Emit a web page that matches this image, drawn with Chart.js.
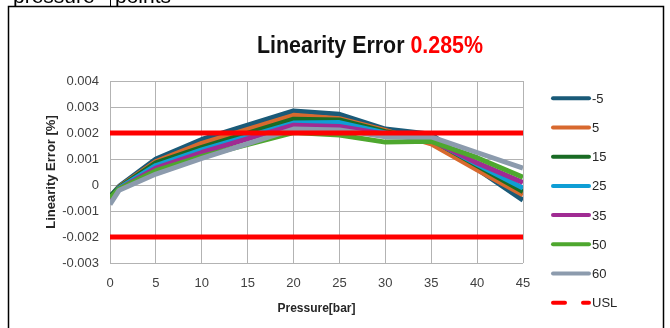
<!DOCTYPE html>
<html>
<head>
<meta charset="utf-8">
<script src="https://cdn.jsdelivr.net/npm/chart.js@4.4.1/dist/chart.umd.min.js"></script>
<style>
  html, body { margin: 0; padding: 0; background: #fff; overflow: hidden; }
  #wrap { position: absolute; left: 0; top: 0; width: 670px; height: 328px; }
</style>
</head>
<body>
<div id="wrap"><canvas id="c" width="670" height="328"></canvas></div>
<script>
// ---- data ----
const pressures = [0, 1, 5, 10, 20, 25, 30, 35, 40, 45];
const seriesLabels = ['-5', '5', '15', '25', '35', '50', '60'];
const seriesColors = ['#1a5a78', '#d8692e', '#196b24', '#0f9ed5', '#a02b93', '#4ea72e', '#8c9bad'];
const sM5 = [-0.00045, -0.00005, 0.00100, 0.00175, 0.00285, 0.00272, 0.00215, 0.00195, 0.00062, -0.00058];
const s5  = [-0.00050, -0.00008, 0.00090, 0.00160, 0.00268, 0.00255, 0.00210, 0.00158, 0.00058, -0.00038];
const s15 = [-0.00045, -0.00010, 0.00085, 0.00145, 0.00253, 0.00250, 0.00205, 0.00175, 0.00075, -0.00025];
const s25 = [-0.00055, -0.00012, 0.00075, 0.00135, 0.00238, 0.00240, 0.00200, 0.00175, 0.00080, -0.00012];
const s35 = [-0.00055, -0.00015, 0.00065, 0.00125, 0.00230, 0.00225, 0.00195, 0.00172, 0.00085, 0.00010];
const s50 = [-0.00050, -0.00015, 0.00055, 0.00110, 0.00202, 0.00192, 0.00165, 0.00168, 0.00105, 0.00030];
const s60 = [-0.00075, -0.00020, 0.00042, 0.00102, 0.00215, 0.00212, 0.00185, 0.00185, 0.00125, 0.00065];
const seriesValues = [sM5, s5, s15, s25, s35, s50, s60];
const limitX = [0, 45];
const uslValue = 0.002;
const lslValue = -0.002;
const xTicks = [0, 5, 10, 15, 20, 25, 30, 35, 40, 45];
const yTicks = [-0.003, -0.002, -0.001, 0, 0.001, 0.002, 0.003, 0.004];
const titleMain = 'Linearity Error ';
const titleValue = '0.285%';
const xTitle = 'Pressure[bar]';
const yTitle = 'Linearity Error [%]';
const sheetText = 'pressure points';

// ---- datasets ----
const datasets = seriesLabels.map((lab, i) => ({
  label: lab,
  data: pressures.map((p, j) => ({ x: p, y: seriesValues[i][j] })),
  borderColor: seriesColors[i],
  backgroundColor: seriesColors[i],
  borderWidth: 5,
  pointRadius: 0,
  tension: 0,
  borderJoinStyle: 'round',
  order: seriesLabels.length - i + 1,
  inLegend: true
}));
datasets.push({
  label: 'USL',
  data: limitX.map(x => ({ x: x, y: uslValue })),
  borderColor: '#ff0000', backgroundColor: '#ff0000',
  borderWidth: 5, pointRadius: 0, order: 0, inLegend: true, dashLegend: true
});
datasets.push({
  label: 'LSL',
  data: limitX.map(x => ({ x: x, y: lslValue })),
  borderColor: '#ff0000', backgroundColor: '#ff0000',
  borderWidth: 5, pointRadius: 0, order: 0, inLegend: false
});

const decorPlugin = {
  id: 'decor',
  beforeDraw(chart) {
    const ctx = chart.ctx;
    ctx.save();
    ctx.fillStyle = '#fff';
    ctx.fillRect(0, 0, chart.width, chart.height);
    // sheet cell text cut at the top
    ctx.fillStyle = '#000';
    ctx.font = '21px "Liberation Sans", Arial, sans-serif';
    ctx.textBaseline = 'alphabetic';
    ctx.fillText(sheetText.split(' ')[0], 13, 3);
    ctx.fillText(sheetText.split(' ')[1], 115, 3);
    ctx.strokeStyle = '#000';
    ctx.lineWidth = 1;
    ctx.beginPath();
    ctx.moveTo(110.5, 0); ctx.lineTo(110.5, 6);
    ctx.stroke();
    // chart frame
    ctx.lineWidth = 1.5;
    ctx.strokeRect(8.5, 6.5, 655, 340);
    ctx.restore();
  },
  afterDraw(chart) {
    const ctx = chart.ctx;
    ctx.save();
    // title
    ctx.font = 'bold 24px "Liberation Sans", Arial, sans-serif';
    ctx.textBaseline = 'alphabetic';
    const w1 = ctx.measureText(titleMain).width;
    const w2 = ctx.measureText(titleValue).width;
    const sx = 226 / (w1 + w2);
    ctx.translate(257, 53);
    ctx.scale(sx, 1.0);
    ctx.fillStyle = '#111';
    ctx.fillText(titleMain, 0, 0);
    ctx.fillStyle = '#ff0000';
    ctx.fillText(titleValue, w1, 0);
    ctx.restore();

    // legend
    ctx.save();
    const items = chart.data.datasets.filter(d => d.inLegend);
    items.forEach((d, i) => {
      const y = 98.3 + i * 29.2;
      ctx.strokeStyle = d.borderColor;
      ctx.lineWidth = 4;
      ctx.lineCap = 'round';
      ctx.beginPath();
      if (d.dashLegend) {
        ctx.moveTo(553, y); ctx.lineTo(565, y);
        ctx.moveTo(583, y); ctx.lineTo(589, y);
      } else {
        ctx.moveTo(553, y); ctx.lineTo(589, y);
      }
      ctx.stroke();
      ctx.fillStyle = '#262626';
      ctx.font = '13px "Liberation Sans", Arial, sans-serif';
      ctx.textBaseline = 'middle';
      ctx.fillText(d.label, 592, y + 1);
    });
    ctx.restore();
  }
};

new Chart(document.getElementById('c'), {
  type: 'line',
  data: { datasets: datasets },
  options: {
    responsive: false,
    animation: false,
    devicePixelRatio: 1,
    layout: { padding: { left: 44, right: 147, top: 81, bottom: 0 } },
    plugins: { legend: { display: false }, tooltip: { enabled: false }, title: { display: false } },
    scales: {
      x: {
        type: 'linear',
        min: 0, max: 45,
        afterBuildTicks: (s) => { s.ticks = xTicks.map(v => ({ value: v })); },
        afterFit: (s) => { s.height = 65; },
        grid: { color: '#b3b3b3', lineWidth: 1, drawTicks: false },
        border: { display: false },
        ticks: { color: '#404040', font: { family: '"Liberation Sans", Arial, sans-serif', size: 13 }, padding: 13, maxRotation: 0 },
        title: { display: true, text: xTitle, color: '#262626', font: { family: '"Liberation Sans", Arial, sans-serif', size: 12, weight: 'bold' }, padding: { top: 0, bottom: 12 } }
      },
      y: {
        type: 'linear',
        min: -0.003, max: 0.004,
        afterBuildTicks: (s) => { s.ticks = yTicks.map(v => ({ value: v })); },
        afterFit: (s) => { s.width = 66; },
        grid: { color: '#b3b3b3', lineWidth: 1, drawTicks: false },
        border: { display: false },
        ticks: {
          color: '#404040', font: { family: '"Liberation Sans", Arial, sans-serif', size: 13 }, padding: 11,
          callback: (v) => Math.abs(v) < 1e-9 ? '0' : v.toFixed(3)
        },
        title: { display: true, text: yTitle, color: '#262626', font: { family: '"Liberation Sans", Arial, sans-serif', size: 13, weight: 'bold' }, padding: { top: 0, bottom: 0 } }
      }
    }
  },
  plugins: [decorPlugin]
});
</script>
</body>
</html>
